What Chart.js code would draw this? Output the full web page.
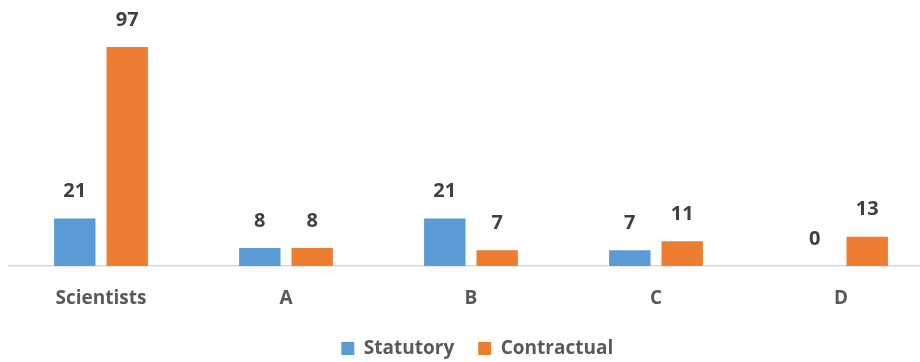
<!DOCTYPE html>
<html>
<head>
<meta charset="utf-8">
<script src="https://cdn.jsdelivr.net/npm/chart.js@4/dist/chart.umd.min.js"></script>
<style>
  html, body { margin: 0; padding: 0; background: #fff; }
  #wrap { width: 920px; height: 362px; }
</style>
</head>
<body>
<div id="wrap"><canvas id="barChart" width="920" height="362"></canvas></div>
<script>
const categories = ['Scientists', 'A', 'B', 'C', 'D'];
const statutory = [21, 8, 21, 7, 0];
const contractual = [97, 8, 7, 11, 13];

const fontFamily = "'Open Sans', 'Noto Sans', sans-serif";

// ajustements de mise en page + valeurs au-dessus des barres
const valueLabels = {
  id: 'valueLabels',
  afterLayout(chart) {
    // dans l'original la zone du graphique dépasse à droite du canevas
    const x = chart.scales.x;
    x.right = 933.5;
    x.width = x.right - x.left;
    x.configure();
    chart.chartArea.right = x.right;
    chart.chartArea.width = x.width;
    // décaler un peu la légende vers la droite
    chart.legend.left += 13;
    chart.legend.right += 13;
  },
  afterDatasetsDraw(chart) {
    const ctx = chart.ctx;
    ctx.save();
    ctx.font = 'bold 20px ' + fontFamily;
    ctx.fillStyle = '#404040';
    ctx.textAlign = 'center';
    ctx.textBaseline = 'middle';
    chart.data.datasets.forEach((ds, i) => {
      chart.getDatasetMeta(i).data.forEach((bar, j) => {
        ctx.fillText(ds.data[j], bar.x, bar.y - 27);
      });
    });
    ctx.restore();
  }
};

new Chart(document.getElementById('barChart').getContext('2d'), {
  type: 'bar',
  data: {
    labels: categories,
    datasets: [
      { label: 'Statutory', data: statutory, backgroundColor: '#5B9BD5',
        categoryPercentage: 0.5665, barPercentage: 0.79 },
      { label: 'Contractual', data: contractual, backgroundColor: '#ED7D31',
        categoryPercentage: 0.5665, barPercentage: 0.79 }
    ]
  },
  options: {
    responsive: false,
    animation: false,
    layout: { padding: { top: 47, left: 8.5, right: 0, bottom: 0 } },
    scales: {
      y: { display: false, min: 0, max: 97 },
      x: {
        grid: { display: false },
        border: { color: '#d9d9d9', width: 1.5 },
        ticks: {
          color: '#595959',
          padding: 13,
          font: { family: fontFamily, size: 19, weight: 'bold' }
        },
        afterFit(scale) { scale.height = 49; }
      }
    },
    plugins: {
      tooltip: { enabled: false },
      legend: {
        position: 'bottom',
        maxHeight: 47,
        labels: {
          boxWidth: 13,
          boxHeight: 13,
          padding: 24,
          color: '#595959',
          font: { family: fontFamily, size: 19, weight: 'bold' }
        }
      }
    }
  },
  plugins: [valueLabels]
});
</script>
</body>
</html>
